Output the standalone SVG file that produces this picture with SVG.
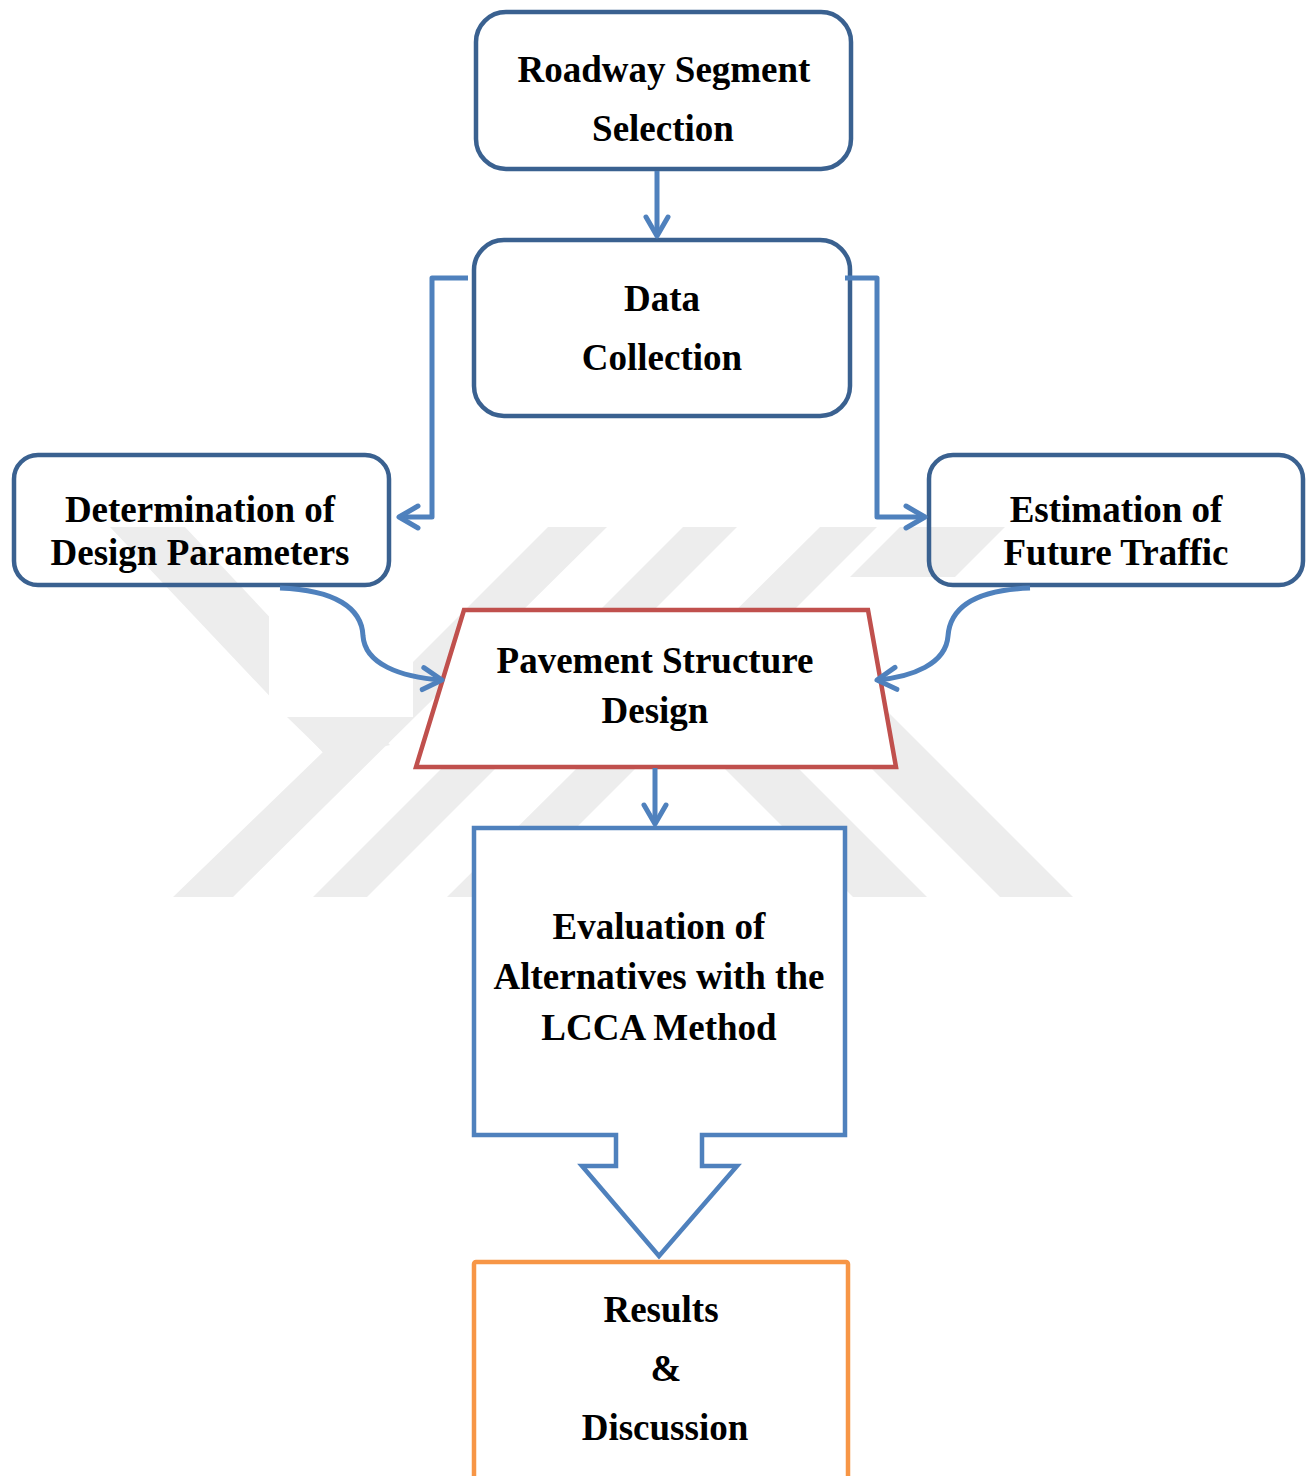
<svg xmlns="http://www.w3.org/2000/svg" width="1314" height="1476" viewBox="0 0 1314 1476">
<style>
.wm{fill:#ededed;stroke:none}
.rbox{fill:none;stroke:#3a6190;stroke-width:4.5}
.lbl{font-family:"Liberation Serif","Times New Roman",serif;font-weight:bold;font-size:37px;fill:#000;text-anchor:middle}
.conn{fill:none;stroke:#4f81bd;stroke-width:5;stroke-linejoin:round}
</style>
<defs>
<marker id="arr" markerUnits="userSpaceOnUse" viewBox="-25 -15 30 30" markerWidth="30" markerHeight="30" refX="0" refY="0" orient="auto">
<path d="M-19,-11 L0,0 L-19,11" fill="none" stroke="#4f81bd" stroke-width="5" stroke-linecap="round" stroke-linejoin="round"/>
</marker>
</defs>
<rect width="1314" height="1476" fill="#fff"/>
<g id="watermark">
<polygon class="wm" points="110,527 185,527 390,745 330,760"/>
<polygon class="wm" points="548,527 607,527 233,897 173,897 323,752 287,717 358,717"/>
<polygon class="wm" points="683,527 737,527 367,897 313,897"/>
<polygon class="wm" points="820,527 877,527 507,897 447,897"/>
<polygon class="wm" points="900,527 1005,527 955,577 850,577"/>
<polygon class="wm" points="656,700 730,700 927,897 853,897"/>
<polygon class="wm" points="763,660 836,660 1073,897 1000,897"/>
<rect x="269" y="583" width="144" height="134" fill="#fff"/>
</g>
<g id="node-roadway">
<rect class="rbox" x="476" y="12" width="375" height="157" rx="30"/>
<text class="lbl" x="664" y="82">Roadway Segment</text>
<text class="lbl" x="663" y="141">Selection</text>
</g>
<g id="node-data">
<rect class="rbox" x="474" y="240" width="376" height="176" rx="30"/>
<text class="lbl" x="662" y="311">Data</text>
<text class="lbl" x="662" y="370">Collection</text>
</g>
<g id="node-determination">
<rect class="rbox" x="14" y="455" width="375" height="130" rx="24"/>
<text class="lbl" x="200" y="522">Determination of</text>
<text class="lbl" x="200" y="565">Design Parameters</text>
</g>
<g id="node-estimation">
<rect class="rbox" x="929" y="455" width="374" height="130" rx="24"/>
<text class="lbl" x="1116" y="522">Estimation of</text>
<text class="lbl" x="1116" y="565">Future Traffic</text>
</g>
<g id="node-pavement">
<polygon points="464,610 868,610 896,767 416,767" fill="#fff" stroke="#c0504d" stroke-width="4.5" stroke-linejoin="miter"/>
<text class="lbl" x="655" y="673">Pavement Structure</text>
<text class="lbl" x="655" y="723">Design</text>
</g>
<g id="node-evaluation">
<path d="M474,828 L845,828 L845,1135 L702,1135 L702,1166 L737,1166 L659,1256 L582,1166 L616,1166 L616,1135 L474,1135 Z" fill="#fff" stroke="#4f81bd" stroke-width="4.5" stroke-linejoin="miter"/>
<text class="lbl" x="659" y="939">Evaluation of</text>
<text class="lbl" x="659" y="989">Alternatives with the</text>
<text class="lbl" x="659" y="1040">LCCA Method</text>
</g>
<g id="node-results">
<rect x="474" y="1262" width="374" height="240" rx="2" fill="#fff" stroke="#f79646" stroke-width="4.5"/>
<text class="lbl" x="661" y="1322">Results</text>
<text class="lbl" x="666" y="1381">&amp;</text>
<text class="lbl" x="665" y="1440">Discussion</text>
</g>
<g id="connectors">
<path class="conn" d="M657,171 L657,236" marker-end="url(#arr)"/>
<path class="conn" d="M468,278 L432,278 L432,517 L399,517" marker-end="url(#arr)"/>
<path class="conn" d="M845,278 L877,278 L877,517 L925,517" marker-end="url(#arr)"/>
<path class="conn" d="M280,588 C335,590 362,608 363,636 C365,664 400,677 442,680" marker-end="url(#arr)"/>
<path class="conn" d="M1030,588 C975,590 950,608 948,636 C946,664 912,677 877,680" marker-end="url(#arr)"/>
<path class="conn" d="M655,768 L655,824" marker-end="url(#arr)"/>
</g>
</svg>
